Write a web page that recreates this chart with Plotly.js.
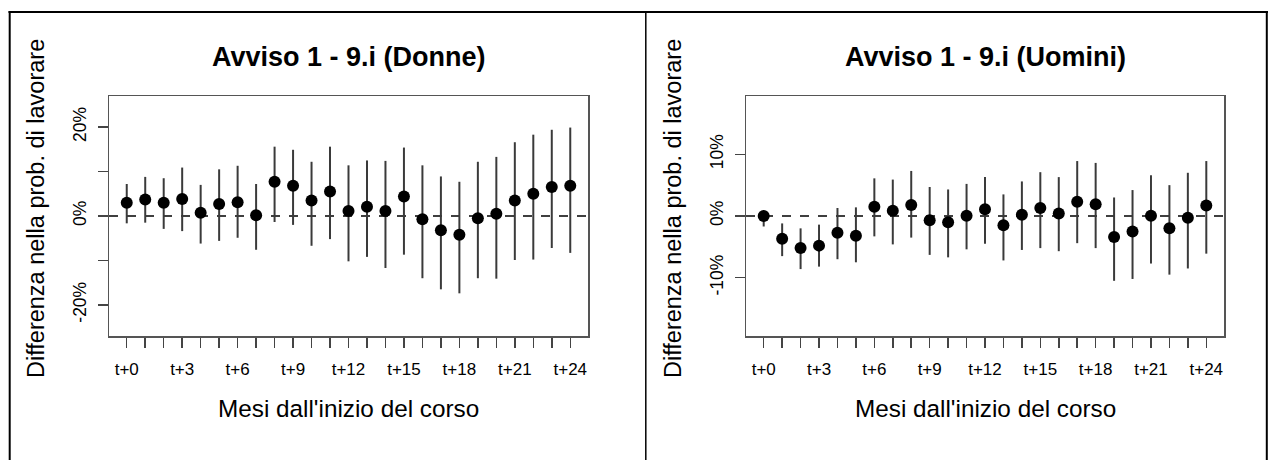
<!DOCTYPE html>
<html>
<head>
<meta charset="utf-8">
<script src="https://cdn.plot.ly/plotly-3.0.1.min.js"></script>
<style>html,body{margin:0;padding:0;background:#fff;}#chart{width:1269px;height:460px;}</style>
</head>
<body>
<div id="chart"></div>
<script>
// Months since course start (0..24)
const months = [0,1,2,3,4,5,6,7,8,9,10,11,12,13,14,15,16,17,18,19,20,21,22,23,24];
const monthLabels = ["t+0","","","t+3","","","t+6","","","t+9","","","t+12","","","t+15","","","t+18","","","t+21","","","t+24"];

// Donne (women): estimate, upper CI, lower CI (percentage points)
const donneEst   = [3.0, 3.7, 3.0, 3.8, 0.75, 2.7, 3.1, 0.15, 7.7, 6.8, 3.5, 5.5, 1.1, 2.1, 1.1, 4.4, -0.75, -3.2, -4.2, -0.5, 0.5, 3.5, 5.0, 6.5, 6.8];
const donneUpper = [7.2, 8.8, 8.5, 10.9, 7.0, 10.5, 11.3, 7.2, 15.6, 14.9, 12.2, 15.6, 11.4, 12.5, 12.4, 15.4, 11.4, 8.9, 7.7, 12.2, 13.3, 16.6, 18.3, 19.4, 19.9];
const donneLower = [-1.65, -1.5, -2.9, -3.4, -6.2, -5.6, -4.9, -7.6, -1.35, -2.0, -6.7, -5.2, -10.2, -9.2, -11.7, -8.7, -14.0, -16.5, -17.4, -14.0, -14.1, -9.9, -9.8, -7.2, -8.3];

// Uomini (men)
const uominiEst   = [0.0, -3.7, -5.2, -4.8, -2.7, -3.2, 1.5, 0.86, 1.8, -0.7, -1.0, 0.05, 1.1, -1.5, 0.2, 1.3, 0.4, 2.3, 1.9, -3.4, -2.5, 0.05, -2.0, -0.3, 1.7];
const uominiUpper = [0.86, -1.2, -2.0, -1.4, 1.3, 1.4, 6.1, 5.9, 7.3, 4.7, 4.3, 5.2, 6.3, 3.5, 5.6, 7.1, 6.3, 8.9, 8.6, 3.0, 4.2, 6.6, 5.0, 7.0, 8.9];
const uominiLower = [-1.7, -6.5, -8.6, -8.2, -7.0, -7.5, -3.3, -4.6, -3.5, -6.3, -6.7, -5.4, -4.5, -7.2, -5.5, -5.2, -5.7, -4.4, -5.2, -10.5, -10.2, -7.7, -9.5, -8.5, -6.1];

const donneTickVals = [-20, -10, 0, 10, 20];
const donneTickText = ["-20%", "", "0%", "", "20%"];
const uominiTickVals = [-10, 0, 10];
const uominiTickText = ["-10%", "0%", "10%"];

const titleDonne = "Avviso 1 - 9.i (Donne)";
const titleUomini = "Avviso 1 - 9.i (Uomini)";
const xTitle = "Mesi dall'inizio del corso";
const yTitle = "Differenza nella prob. di lavorare";

const W = 1269, H = 460;
const px = v => v / W;
const py = v => 1 - v / H;
const FONT = "Liberation Sans, Arial, Helvetica, sans-serif";

function trace(est, up, lo, xa, ya) {
  return {
    type: "scatter", mode: "markers", x: months, y: est, xaxis: xa, yaxis: ya,
    marker: {color: "#000", size: 12},
    error_y: {type: "data", symmetric: false,
      array: up.map((u, i) => u - est[i]),
      arrayminus: lo.map((l, i) => est[i] - l),
      width: 0, thickness: 2, color: "#3a3a3a"},
    hoverinfo: "skip", showlegend: false
  };
}

const xBase = {
  range: [-0.96, 24.96], tickmode: "array", tickvals: months, ticktext: monthLabels,
  ticks: "outside", ticklen: 10, tickwidth: 1.5, tickcolor: "#444",
  showline: true, mirror: true, linecolor: "#555", linewidth: 1.5,
  showgrid: false, zeroline: false, fixedrange: true,
  tickfont: {family: FONT, size: 17, color: "#000"}, ticklabelstandoff: 7
};
const yBase = {
  ticks: "outside", ticklen: 10, tickwidth: 1.5, tickcolor: "#444",
  showline: true, mirror: true, linecolor: "#555", linewidth: 1.5,
  showgrid: false, zeroline: false, fixedrange: true, tickangle: -90,
  tickfont: {family: FONT, size: 17.5, color: "#000"}, ticklabelstandoff: 5
};

const layout = {
  width: W, height: H, margin: {l: 0, r: 0, t: 0, b: 0},
  paper_bgcolor: "#fff", plot_bgcolor: "#fff", showlegend: false,
  xaxis: Object.assign({}, xBase, {domain: [px(109), px(588)], anchor: "y"}),
  yaxis: Object.assign({}, yBase, {domain: [py(336), py(96)], anchor: "x", range: [-27, 27], tickmode: "array", tickvals: donneTickVals, ticktext: donneTickText}),
  xaxis2: Object.assign({}, xBase, {domain: [px(746), px(1224)], anchor: "y2"}),
  yaxis2: Object.assign({}, yBase, {domain: [py(336), py(96)], anchor: "x2", range: [-19.44, 19.44], tickmode: "array", tickvals: uominiTickVals, ticktext: uominiTickText}),
  shapes: [
    {type: "line", xref: "x domain", yref: "y", x0: 0, x1: 1, y0: 0, y1: 0, line: {color: "#000", width: 1.3, dash: "dash"}, layer: "below"},
    {type: "line", xref: "x2 domain", yref: "y2", x0: 0, x1: 1, y0: 0, y1: 0, line: {color: "#000", width: 1.3, dash: "dash"}, layer: "below"},
    {type: "line", xref: "paper", yref: "paper", x0: px(8.5), x1: px(1268), y0: py(12), y1: py(12), line: {color: "#000", width: 2}},
    {type: "line", xref: "paper", yref: "paper", x0: px(9.7), x1: px(9.7), y0: py(11), y1: 0, line: {color: "#000", width: 2}},
    {type: "line", xref: "paper", yref: "paper", x0: px(645.8), x1: px(645.8), y0: py(11), y1: 0, line: {color: "#000", width: 1.5}},
    {type: "line", xref: "paper", yref: "paper", x0: px(1266.8), x1: px(1266.8), y0: py(11), y1: 0, line: {color: "#000", width: 2}}
  ],
  annotations: [
    {text: "<b>" + titleDonne + "</b>", x: px(348.5), y: py(57), xref: "paper", yref: "paper", showarrow: false, xanchor: "center", yanchor: "middle", font: {family: FONT, size: 27, color: "#000"}},
    {text: "<b>" + titleUomini + "</b>", x: px(985), y: py(57), xref: "paper", yref: "paper", showarrow: false, xanchor: "center", yanchor: "middle", font: {family: FONT, size: 27, color: "#000"}},
    {text: xTitle, x: px(348.5), y: py(408), xref: "paper", yref: "paper", showarrow: false, xanchor: "center", yanchor: "middle", font: {family: FONT, size: 24.3, color: "#000"}},
    {text: xTitle, x: px(985), y: py(408), xref: "paper", yref: "paper", showarrow: false, xanchor: "center", yanchor: "middle", font: {family: FONT, size: 24.3, color: "#000"}},
    {text: yTitle, x: px(36), y: py(209), xref: "paper", yref: "paper", showarrow: false, xanchor: "center", yanchor: "middle", textangle: -90, font: {family: FONT, size: 23.5, color: "#000"}},
    {text: yTitle, x: px(673), y: py(209), xref: "paper", yref: "paper", showarrow: false, xanchor: "center", yanchor: "middle", textangle: -90, font: {family: FONT, size: 23.5, color: "#000"}}
  ]
};

Plotly.newPlot("chart", [
  trace(donneEst, donneUpper, donneLower, "x", "y"),
  trace(uominiEst, uominiUpper, uominiLower, "x2", "y2")
], layout, {displayModeBar: false, staticPlot: true});
</script>
</body>
</html>
